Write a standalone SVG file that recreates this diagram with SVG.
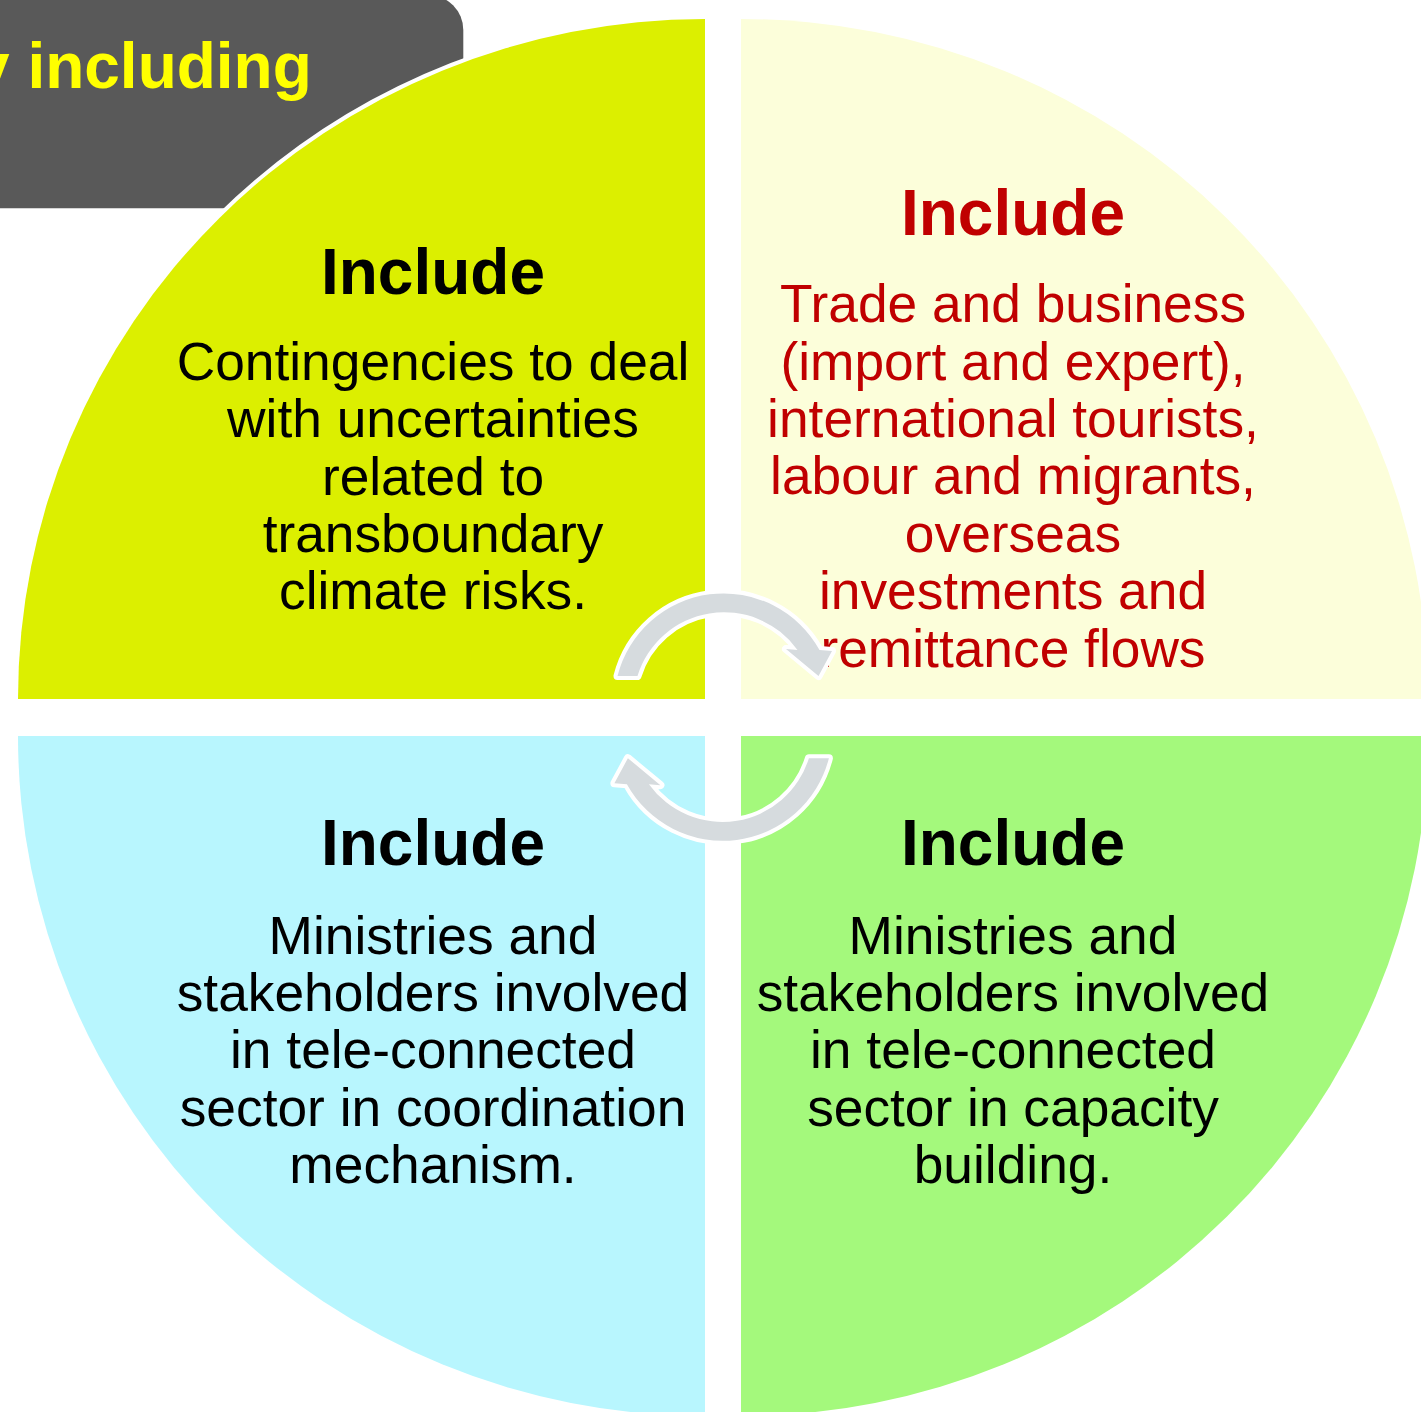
<svg xmlns="http://www.w3.org/2000/svg" width="1421" height="1412" viewBox="0 0 1421 1412">
<style>
.q{stroke:#fff;stroke-width:8;paint-order:stroke;stroke-linejoin:round}
.h{font-family:"Liberation Sans",Arial,sans-serif;font-weight:bold;font-size:64px;text-anchor:middle}
.b{font-family:"Liberation Sans",Arial,sans-serif;font-size:53.3px;text-anchor:middle}
.arr{fill:#D6DBDE;stroke:#fff;stroke-width:8;paint-order:stroke;stroke-linejoin:round}
</style>
<rect width="1421" height="1412" fill="#fff"/>
<g id="tab">
<rect x="-60" y="-5" width="523.3" height="213.3" rx="35" fill="#595959"/>
<text x="-26" y="88.3" font-family="Liberation Sans, Arial, sans-serif" font-weight="bold" font-size="64" fill="#FFFF00">y including</text>
</g>
<g id="node-tl">
<path class="q" d="M705 699 H18 A687 680 0 0 1 705 19 Z" fill="#DCEF00"/>
<text class="h" x="433" y="294" fill="#000">Include</text>
<text class="b" fill="#000"><tspan x="433" y="380">Contingencies to deal</tspan><tspan x="433" y="437">with uncertainties</tspan><tspan x="433" y="495">related to</tspan><tspan x="433" y="552">transboundary</tspan><tspan x="433" y="609">climate risks.</tspan></text>
</g>
<g id="node-tr">
<path class="q" d="M741 699 V19 A687 680 0 0 1 1428 699 Z" fill="#FCFEDA"/>
<text class="h" x="1013" y="235" fill="#C00000">Include</text>
<text class="b" fill="#C00000"><tspan x="1013" y="322">Trade and business</tspan><tspan x="1013" y="380">(import and expert),</tspan><tspan x="1013" y="437">international tourists,</tspan><tspan x="1013" y="494">labour and migrants,</tspan><tspan x="1013" y="552">overseas</tspan><tspan x="1013" y="609">investments and</tspan><tspan x="1013" y="667">remittance flows</tspan></text>
</g>
<g id="node-bl">
<path class="q" d="M705 736 V1416 A687 680 0 0 1 18 736 Z" fill="#B8F6FE"/>
<text class="h" x="433" y="865" fill="#000">Include</text>
<text class="b" fill="#000"><tspan x="433" y="954">Ministries and</tspan><tspan x="433" y="1011">stakeholders involved</tspan><tspan x="433" y="1068">in tele-connected</tspan><tspan x="433" y="1126">sector in coordination</tspan><tspan x="433" y="1183">mechanism.</tspan></text>
</g>
<g id="node-br">
<path class="q" d="M741 736 H1428 A687 680 0 0 1 741 1416 Z" fill="#A4F97C"/>
<text class="h" x="1013" y="865" fill="#000">Include</text>
<text class="b" fill="#000"><tspan x="1013" y="954">Ministries and</tspan><tspan x="1013" y="1011">stakeholders involved</tspan><tspan x="1013" y="1068">in tele-connected</tspan><tspan x="1013" y="1126">sector in capacity</tspan><tspan x="1013" y="1183">building.</tspan></text>
</g>
<g id="connectors">
<path id="arrow-top" class="arr" d="M617.5 676 A109.5 109.5 0 0 1 819.5 650 L832 651 L818.5 676 L786 649 L797.5 650 A90.5 90.5 0 0 0 637.5 676 Z"/>
<path id="arrow-bottom" class="arr" transform="rotate(180 723.2 717.1)" d="M617.5 676 A109.5 109.5 0 0 1 819.5 650 L832 651 L818.5 676 L786 649 L797.5 650 A90.5 90.5 0 0 0 637.5 676 Z"/>
</g>
</svg>
